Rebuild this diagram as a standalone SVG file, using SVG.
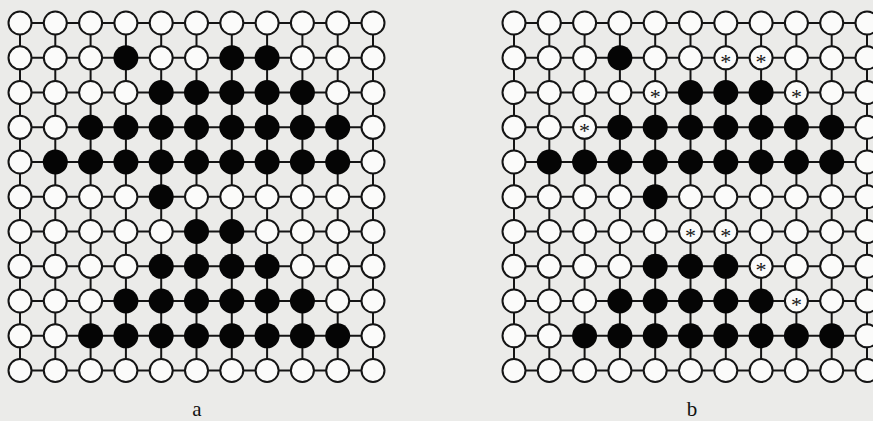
<svg xmlns="http://www.w3.org/2000/svg" xmlns:xlink="http://www.w3.org/1999/xlink" width="873" height="421" viewBox="0 0 873 421">
<style>
.w{fill:#fbfbfa;stroke:#141414;stroke-width:2}
.b{fill:#050505}
.ln{stroke:#141414;stroke-width:2;fill:none}
.st{font-family:"Liberation Serif",serif;font-size:22px;fill:#141414;text-anchor:middle}
.lbl{font-family:"Liberation Serif",serif;font-size:21px;fill:#111;text-anchor:middle}
</style>
<defs>
<circle id="W" r="11.5" class="w"/>
<circle id="B" r="12.5" class="b"/>
<g id="S"><circle r="11.5" class="w"/><text class="st" x="0" y="11">*</text></g>
</defs>
<rect width="873" height="421" fill="#ebebe9"/>
<g id="connectors" class="ln">
<path d="M20 23H373M20 57.8H373M20 92.5H373M20 127.3H373M20 162H373M20 196.8H373M20 231.5H373M20 266.3H373M20 301H373M20 335.8H373M20 370.5H373"/>
<path d="M20 23V370.5M55.3 23V370.5M90.6 23V370.5M125.9 23V370.5M161.2 23V370.5M196.5 23V370.5M231.8 23V370.5M267.1 23V370.5M302.4 23V370.5M337.7 23V370.5M373 23V370.5"/>
<path d="M514 23H880M514 57.8H880M514 92.5H880M514 127.3H880M514 162H880M514 196.8H880M514 231.5H880M514 266.3H880M514 301H880M514 335.8H880M514 370.5H880"/>
<path d="M514 23V370.5M549.3 23V370.5M584.6 23V370.5M619.9 23V370.5M655.2 23V370.5M690.5 23V370.5M725.8 23V370.5M761.1 23V370.5M796.4 23V370.5M831.7 23V370.5M867 23V370.5"/>
</g>
<g id="grid-a">
<g id="a0-0" transform="translate(20 23)"><use href="#W"/></g>
<g id="a0-1" transform="translate(55.3 23)"><use href="#W"/></g>
<g id="a0-2" transform="translate(90.6 23)"><use href="#W"/></g>
<g id="a0-3" transform="translate(125.9 23)"><use href="#W"/></g>
<g id="a0-4" transform="translate(161.2 23)"><use href="#W"/></g>
<g id="a0-5" transform="translate(196.5 23)"><use href="#W"/></g>
<g id="a0-6" transform="translate(231.8 23)"><use href="#W"/></g>
<g id="a0-7" transform="translate(267.1 23)"><use href="#W"/></g>
<g id="a0-8" transform="translate(302.4 23)"><use href="#W"/></g>
<g id="a0-9" transform="translate(337.7 23)"><use href="#W"/></g>
<g id="a0-10" transform="translate(373 23)"><use href="#W"/></g>
<g id="a1-0" transform="translate(20 57.8)"><use href="#W"/></g>
<g id="a1-1" transform="translate(55.3 57.8)"><use href="#W"/></g>
<g id="a1-2" transform="translate(90.6 57.8)"><use href="#W"/></g>
<g id="a1-3" transform="translate(125.9 57.8)"><use href="#B"/></g>
<g id="a1-4" transform="translate(161.2 57.8)"><use href="#W"/></g>
<g id="a1-5" transform="translate(196.5 57.8)"><use href="#W"/></g>
<g id="a1-6" transform="translate(231.8 57.8)"><use href="#B"/></g>
<g id="a1-7" transform="translate(267.1 57.8)"><use href="#B"/></g>
<g id="a1-8" transform="translate(302.4 57.8)"><use href="#W"/></g>
<g id="a1-9" transform="translate(337.7 57.8)"><use href="#W"/></g>
<g id="a1-10" transform="translate(373 57.8)"><use href="#W"/></g>
<g id="a2-0" transform="translate(20 92.5)"><use href="#W"/></g>
<g id="a2-1" transform="translate(55.3 92.5)"><use href="#W"/></g>
<g id="a2-2" transform="translate(90.6 92.5)"><use href="#W"/></g>
<g id="a2-3" transform="translate(125.9 92.5)"><use href="#W"/></g>
<g id="a2-4" transform="translate(161.2 92.5)"><use href="#B"/></g>
<g id="a2-5" transform="translate(196.5 92.5)"><use href="#B"/></g>
<g id="a2-6" transform="translate(231.8 92.5)"><use href="#B"/></g>
<g id="a2-7" transform="translate(267.1 92.5)"><use href="#B"/></g>
<g id="a2-8" transform="translate(302.4 92.5)"><use href="#B"/></g>
<g id="a2-9" transform="translate(337.7 92.5)"><use href="#W"/></g>
<g id="a2-10" transform="translate(373 92.5)"><use href="#W"/></g>
<g id="a3-0" transform="translate(20 127.3)"><use href="#W"/></g>
<g id="a3-1" transform="translate(55.3 127.3)"><use href="#W"/></g>
<g id="a3-2" transform="translate(90.6 127.3)"><use href="#B"/></g>
<g id="a3-3" transform="translate(125.9 127.3)"><use href="#B"/></g>
<g id="a3-4" transform="translate(161.2 127.3)"><use href="#B"/></g>
<g id="a3-5" transform="translate(196.5 127.3)"><use href="#B"/></g>
<g id="a3-6" transform="translate(231.8 127.3)"><use href="#B"/></g>
<g id="a3-7" transform="translate(267.1 127.3)"><use href="#B"/></g>
<g id="a3-8" transform="translate(302.4 127.3)"><use href="#B"/></g>
<g id="a3-9" transform="translate(337.7 127.3)"><use href="#B"/></g>
<g id="a3-10" transform="translate(373 127.3)"><use href="#W"/></g>
<g id="a4-0" transform="translate(20 162)"><use href="#W"/></g>
<g id="a4-1" transform="translate(55.3 162)"><use href="#B"/></g>
<g id="a4-2" transform="translate(90.6 162)"><use href="#B"/></g>
<g id="a4-3" transform="translate(125.9 162)"><use href="#B"/></g>
<g id="a4-4" transform="translate(161.2 162)"><use href="#B"/></g>
<g id="a4-5" transform="translate(196.5 162)"><use href="#B"/></g>
<g id="a4-6" transform="translate(231.8 162)"><use href="#B"/></g>
<g id="a4-7" transform="translate(267.1 162)"><use href="#B"/></g>
<g id="a4-8" transform="translate(302.4 162)"><use href="#B"/></g>
<g id="a4-9" transform="translate(337.7 162)"><use href="#B"/></g>
<g id="a4-10" transform="translate(373 162)"><use href="#W"/></g>
<g id="a5-0" transform="translate(20 196.8)"><use href="#W"/></g>
<g id="a5-1" transform="translate(55.3 196.8)"><use href="#W"/></g>
<g id="a5-2" transform="translate(90.6 196.8)"><use href="#W"/></g>
<g id="a5-3" transform="translate(125.9 196.8)"><use href="#W"/></g>
<g id="a5-4" transform="translate(161.2 196.8)"><use href="#B"/></g>
<g id="a5-5" transform="translate(196.5 196.8)"><use href="#W"/></g>
<g id="a5-6" transform="translate(231.8 196.8)"><use href="#W"/></g>
<g id="a5-7" transform="translate(267.1 196.8)"><use href="#W"/></g>
<g id="a5-8" transform="translate(302.4 196.8)"><use href="#W"/></g>
<g id="a5-9" transform="translate(337.7 196.8)"><use href="#W"/></g>
<g id="a5-10" transform="translate(373 196.8)"><use href="#W"/></g>
<g id="a6-0" transform="translate(20 231.5)"><use href="#W"/></g>
<g id="a6-1" transform="translate(55.3 231.5)"><use href="#W"/></g>
<g id="a6-2" transform="translate(90.6 231.5)"><use href="#W"/></g>
<g id="a6-3" transform="translate(125.9 231.5)"><use href="#W"/></g>
<g id="a6-4" transform="translate(161.2 231.5)"><use href="#W"/></g>
<g id="a6-5" transform="translate(196.5 231.5)"><use href="#B"/></g>
<g id="a6-6" transform="translate(231.8 231.5)"><use href="#B"/></g>
<g id="a6-7" transform="translate(267.1 231.5)"><use href="#W"/></g>
<g id="a6-8" transform="translate(302.4 231.5)"><use href="#W"/></g>
<g id="a6-9" transform="translate(337.7 231.5)"><use href="#W"/></g>
<g id="a6-10" transform="translate(373 231.5)"><use href="#W"/></g>
<g id="a7-0" transform="translate(20 266.3)"><use href="#W"/></g>
<g id="a7-1" transform="translate(55.3 266.3)"><use href="#W"/></g>
<g id="a7-2" transform="translate(90.6 266.3)"><use href="#W"/></g>
<g id="a7-3" transform="translate(125.9 266.3)"><use href="#W"/></g>
<g id="a7-4" transform="translate(161.2 266.3)"><use href="#B"/></g>
<g id="a7-5" transform="translate(196.5 266.3)"><use href="#B"/></g>
<g id="a7-6" transform="translate(231.8 266.3)"><use href="#B"/></g>
<g id="a7-7" transform="translate(267.1 266.3)"><use href="#B"/></g>
<g id="a7-8" transform="translate(302.4 266.3)"><use href="#W"/></g>
<g id="a7-9" transform="translate(337.7 266.3)"><use href="#W"/></g>
<g id="a7-10" transform="translate(373 266.3)"><use href="#W"/></g>
<g id="a8-0" transform="translate(20 301)"><use href="#W"/></g>
<g id="a8-1" transform="translate(55.3 301)"><use href="#W"/></g>
<g id="a8-2" transform="translate(90.6 301)"><use href="#W"/></g>
<g id="a8-3" transform="translate(125.9 301)"><use href="#B"/></g>
<g id="a8-4" transform="translate(161.2 301)"><use href="#B"/></g>
<g id="a8-5" transform="translate(196.5 301)"><use href="#B"/></g>
<g id="a8-6" transform="translate(231.8 301)"><use href="#B"/></g>
<g id="a8-7" transform="translate(267.1 301)"><use href="#B"/></g>
<g id="a8-8" transform="translate(302.4 301)"><use href="#B"/></g>
<g id="a8-9" transform="translate(337.7 301)"><use href="#W"/></g>
<g id="a8-10" transform="translate(373 301)"><use href="#W"/></g>
<g id="a9-0" transform="translate(20 335.8)"><use href="#W"/></g>
<g id="a9-1" transform="translate(55.3 335.8)"><use href="#W"/></g>
<g id="a9-2" transform="translate(90.6 335.8)"><use href="#B"/></g>
<g id="a9-3" transform="translate(125.9 335.8)"><use href="#B"/></g>
<g id="a9-4" transform="translate(161.2 335.8)"><use href="#B"/></g>
<g id="a9-5" transform="translate(196.5 335.8)"><use href="#B"/></g>
<g id="a9-6" transform="translate(231.8 335.8)"><use href="#B"/></g>
<g id="a9-7" transform="translate(267.1 335.8)"><use href="#B"/></g>
<g id="a9-8" transform="translate(302.4 335.8)"><use href="#B"/></g>
<g id="a9-9" transform="translate(337.7 335.8)"><use href="#B"/></g>
<g id="a9-10" transform="translate(373 335.8)"><use href="#W"/></g>
<g id="a10-0" transform="translate(20 370.5)"><use href="#W"/></g>
<g id="a10-1" transform="translate(55.3 370.5)"><use href="#W"/></g>
<g id="a10-2" transform="translate(90.6 370.5)"><use href="#W"/></g>
<g id="a10-3" transform="translate(125.9 370.5)"><use href="#W"/></g>
<g id="a10-4" transform="translate(161.2 370.5)"><use href="#W"/></g>
<g id="a10-5" transform="translate(196.5 370.5)"><use href="#W"/></g>
<g id="a10-6" transform="translate(231.8 370.5)"><use href="#W"/></g>
<g id="a10-7" transform="translate(267.1 370.5)"><use href="#W"/></g>
<g id="a10-8" transform="translate(302.4 370.5)"><use href="#W"/></g>
<g id="a10-9" transform="translate(337.7 370.5)"><use href="#W"/></g>
<g id="a10-10" transform="translate(373 370.5)"><use href="#W"/></g>
</g>
<g id="grid-b">
<g id="b0-0" transform="translate(514 23)"><use href="#W"/></g>
<g id="b0-1" transform="translate(549.3 23)"><use href="#W"/></g>
<g id="b0-2" transform="translate(584.6 23)"><use href="#W"/></g>
<g id="b0-3" transform="translate(619.9 23)"><use href="#W"/></g>
<g id="b0-4" transform="translate(655.2 23)"><use href="#W"/></g>
<g id="b0-5" transform="translate(690.5 23)"><use href="#W"/></g>
<g id="b0-6" transform="translate(725.8 23)"><use href="#W"/></g>
<g id="b0-7" transform="translate(761.1 23)"><use href="#W"/></g>
<g id="b0-8" transform="translate(796.4 23)"><use href="#W"/></g>
<g id="b0-9" transform="translate(831.7 23)"><use href="#W"/></g>
<g id="b0-10" transform="translate(867 23)"><use href="#W"/></g>
<g id="b1-0" transform="translate(514 57.8)"><use href="#W"/></g>
<g id="b1-1" transform="translate(549.3 57.8)"><use href="#W"/></g>
<g id="b1-2" transform="translate(584.6 57.8)"><use href="#W"/></g>
<g id="b1-3" transform="translate(619.9 57.8)"><use href="#B"/></g>
<g id="b1-4" transform="translate(655.2 57.8)"><use href="#W"/></g>
<g id="b1-5" transform="translate(690.5 57.8)"><use href="#W"/></g>
<g id="b1-6" transform="translate(725.8 57.8)"><use href="#S"/></g>
<g id="b1-7" transform="translate(761.1 57.8)"><use href="#S"/></g>
<g id="b1-8" transform="translate(796.4 57.8)"><use href="#W"/></g>
<g id="b1-9" transform="translate(831.7 57.8)"><use href="#W"/></g>
<g id="b1-10" transform="translate(867 57.8)"><use href="#W"/></g>
<g id="b2-0" transform="translate(514 92.5)"><use href="#W"/></g>
<g id="b2-1" transform="translate(549.3 92.5)"><use href="#W"/></g>
<g id="b2-2" transform="translate(584.6 92.5)"><use href="#W"/></g>
<g id="b2-3" transform="translate(619.9 92.5)"><use href="#W"/></g>
<g id="b2-4" transform="translate(655.2 92.5)"><use href="#S"/></g>
<g id="b2-5" transform="translate(690.5 92.5)"><use href="#B"/></g>
<g id="b2-6" transform="translate(725.8 92.5)"><use href="#B"/></g>
<g id="b2-7" transform="translate(761.1 92.5)"><use href="#B"/></g>
<g id="b2-8" transform="translate(796.4 92.5)"><use href="#S"/></g>
<g id="b2-9" transform="translate(831.7 92.5)"><use href="#W"/></g>
<g id="b2-10" transform="translate(867 92.5)"><use href="#W"/></g>
<g id="b3-0" transform="translate(514 127.3)"><use href="#W"/></g>
<g id="b3-1" transform="translate(549.3 127.3)"><use href="#W"/></g>
<g id="b3-2" transform="translate(584.6 127.3)"><use href="#S"/></g>
<g id="b3-3" transform="translate(619.9 127.3)"><use href="#B"/></g>
<g id="b3-4" transform="translate(655.2 127.3)"><use href="#B"/></g>
<g id="b3-5" transform="translate(690.5 127.3)"><use href="#B"/></g>
<g id="b3-6" transform="translate(725.8 127.3)"><use href="#B"/></g>
<g id="b3-7" transform="translate(761.1 127.3)"><use href="#B"/></g>
<g id="b3-8" transform="translate(796.4 127.3)"><use href="#B"/></g>
<g id="b3-9" transform="translate(831.7 127.3)"><use href="#B"/></g>
<g id="b3-10" transform="translate(867 127.3)"><use href="#W"/></g>
<g id="b4-0" transform="translate(514 162)"><use href="#W"/></g>
<g id="b4-1" transform="translate(549.3 162)"><use href="#B"/></g>
<g id="b4-2" transform="translate(584.6 162)"><use href="#B"/></g>
<g id="b4-3" transform="translate(619.9 162)"><use href="#B"/></g>
<g id="b4-4" transform="translate(655.2 162)"><use href="#B"/></g>
<g id="b4-5" transform="translate(690.5 162)"><use href="#B"/></g>
<g id="b4-6" transform="translate(725.8 162)"><use href="#B"/></g>
<g id="b4-7" transform="translate(761.1 162)"><use href="#B"/></g>
<g id="b4-8" transform="translate(796.4 162)"><use href="#B"/></g>
<g id="b4-9" transform="translate(831.7 162)"><use href="#B"/></g>
<g id="b4-10" transform="translate(867 162)"><use href="#W"/></g>
<g id="b5-0" transform="translate(514 196.8)"><use href="#W"/></g>
<g id="b5-1" transform="translate(549.3 196.8)"><use href="#W"/></g>
<g id="b5-2" transform="translate(584.6 196.8)"><use href="#W"/></g>
<g id="b5-3" transform="translate(619.9 196.8)"><use href="#W"/></g>
<g id="b5-4" transform="translate(655.2 196.8)"><use href="#B"/></g>
<g id="b5-5" transform="translate(690.5 196.8)"><use href="#W"/></g>
<g id="b5-6" transform="translate(725.8 196.8)"><use href="#W"/></g>
<g id="b5-7" transform="translate(761.1 196.8)"><use href="#W"/></g>
<g id="b5-8" transform="translate(796.4 196.8)"><use href="#W"/></g>
<g id="b5-9" transform="translate(831.7 196.8)"><use href="#W"/></g>
<g id="b5-10" transform="translate(867 196.8)"><use href="#W"/></g>
<g id="b6-0" transform="translate(514 231.5)"><use href="#W"/></g>
<g id="b6-1" transform="translate(549.3 231.5)"><use href="#W"/></g>
<g id="b6-2" transform="translate(584.6 231.5)"><use href="#W"/></g>
<g id="b6-3" transform="translate(619.9 231.5)"><use href="#W"/></g>
<g id="b6-4" transform="translate(655.2 231.5)"><use href="#W"/></g>
<g id="b6-5" transform="translate(690.5 231.5)"><use href="#S"/></g>
<g id="b6-6" transform="translate(725.8 231.5)"><use href="#S"/></g>
<g id="b6-7" transform="translate(761.1 231.5)"><use href="#W"/></g>
<g id="b6-8" transform="translate(796.4 231.5)"><use href="#W"/></g>
<g id="b6-9" transform="translate(831.7 231.5)"><use href="#W"/></g>
<g id="b6-10" transform="translate(867 231.5)"><use href="#W"/></g>
<g id="b7-0" transform="translate(514 266.3)"><use href="#W"/></g>
<g id="b7-1" transform="translate(549.3 266.3)"><use href="#W"/></g>
<g id="b7-2" transform="translate(584.6 266.3)"><use href="#W"/></g>
<g id="b7-3" transform="translate(619.9 266.3)"><use href="#W"/></g>
<g id="b7-4" transform="translate(655.2 266.3)"><use href="#B"/></g>
<g id="b7-5" transform="translate(690.5 266.3)"><use href="#B"/></g>
<g id="b7-6" transform="translate(725.8 266.3)"><use href="#B"/></g>
<g id="b7-7" transform="translate(761.1 266.3)"><use href="#S"/></g>
<g id="b7-8" transform="translate(796.4 266.3)"><use href="#W"/></g>
<g id="b7-9" transform="translate(831.7 266.3)"><use href="#W"/></g>
<g id="b7-10" transform="translate(867 266.3)"><use href="#W"/></g>
<g id="b8-0" transform="translate(514 301)"><use href="#W"/></g>
<g id="b8-1" transform="translate(549.3 301)"><use href="#W"/></g>
<g id="b8-2" transform="translate(584.6 301)"><use href="#W"/></g>
<g id="b8-3" transform="translate(619.9 301)"><use href="#B"/></g>
<g id="b8-4" transform="translate(655.2 301)"><use href="#B"/></g>
<g id="b8-5" transform="translate(690.5 301)"><use href="#B"/></g>
<g id="b8-6" transform="translate(725.8 301)"><use href="#B"/></g>
<g id="b8-7" transform="translate(761.1 301)"><use href="#B"/></g>
<g id="b8-8" transform="translate(796.4 301)"><use href="#S"/></g>
<g id="b8-9" transform="translate(831.7 301)"><use href="#W"/></g>
<g id="b8-10" transform="translate(867 301)"><use href="#W"/></g>
<g id="b9-0" transform="translate(514 335.8)"><use href="#W"/></g>
<g id="b9-1" transform="translate(549.3 335.8)"><use href="#W"/></g>
<g id="b9-2" transform="translate(584.6 335.8)"><use href="#B"/></g>
<g id="b9-3" transform="translate(619.9 335.8)"><use href="#B"/></g>
<g id="b9-4" transform="translate(655.2 335.8)"><use href="#B"/></g>
<g id="b9-5" transform="translate(690.5 335.8)"><use href="#B"/></g>
<g id="b9-6" transform="translate(725.8 335.8)"><use href="#B"/></g>
<g id="b9-7" transform="translate(761.1 335.8)"><use href="#B"/></g>
<g id="b9-8" transform="translate(796.4 335.8)"><use href="#B"/></g>
<g id="b9-9" transform="translate(831.7 335.8)"><use href="#B"/></g>
<g id="b9-10" transform="translate(867 335.8)"><use href="#W"/></g>
<g id="b10-0" transform="translate(514 370.5)"><use href="#W"/></g>
<g id="b10-1" transform="translate(549.3 370.5)"><use href="#W"/></g>
<g id="b10-2" transform="translate(584.6 370.5)"><use href="#W"/></g>
<g id="b10-3" transform="translate(619.9 370.5)"><use href="#W"/></g>
<g id="b10-4" transform="translate(655.2 370.5)"><use href="#W"/></g>
<g id="b10-5" transform="translate(690.5 370.5)"><use href="#W"/></g>
<g id="b10-6" transform="translate(725.8 370.5)"><use href="#W"/></g>
<g id="b10-7" transform="translate(761.1 370.5)"><use href="#W"/></g>
<g id="b10-8" transform="translate(796.4 370.5)"><use href="#W"/></g>
<g id="b10-9" transform="translate(831.7 370.5)"><use href="#W"/></g>
<g id="b10-10" transform="translate(867 370.5)"><use href="#W"/></g>
</g>
<g id="labels">
<text class="lbl" x="197" y="416">a</text>
<text class="lbl" x="692" y="416">b</text>
</g>
</svg>
